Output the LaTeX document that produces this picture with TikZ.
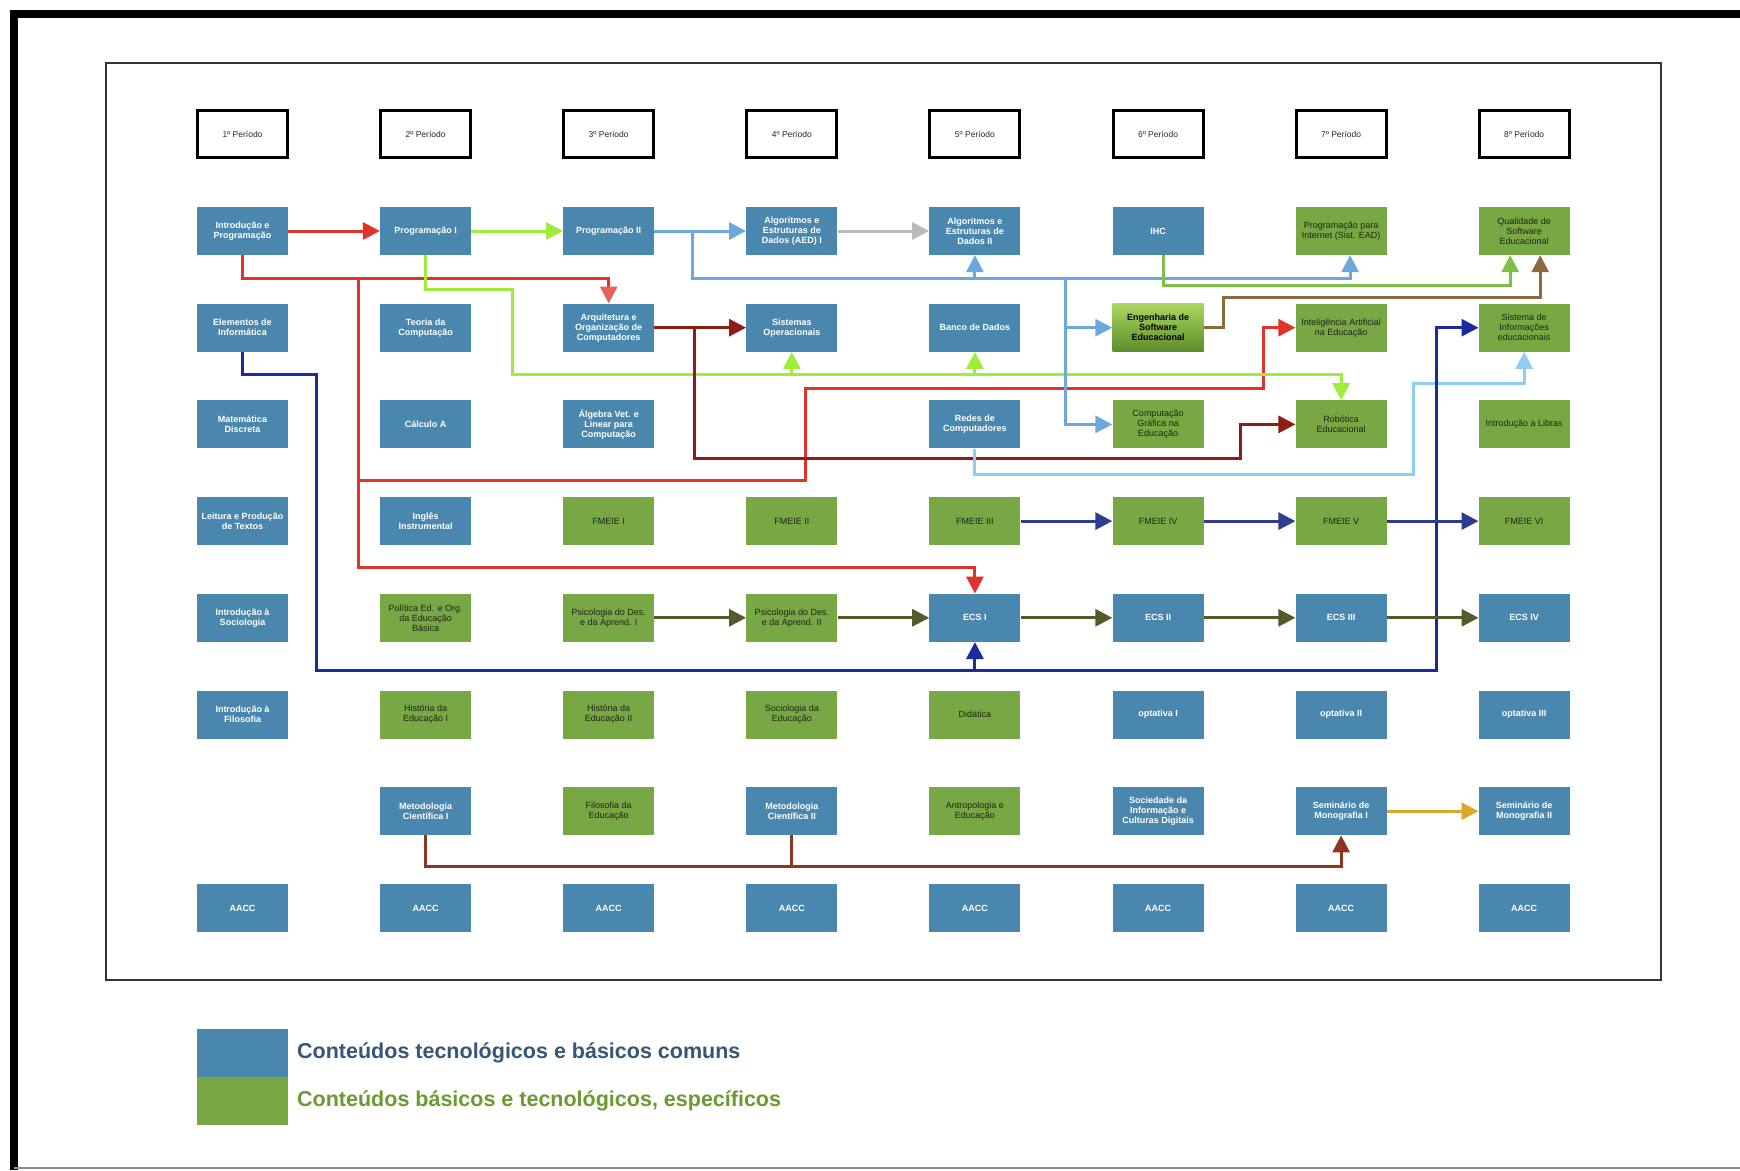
\documentclass[tikz,border=0pt]{standalone}
\usepackage{fontspec}
\setmainfont{Liberation Sans}
\usetikzlibrary{arrows.meta,calc}
\definecolor{cblue}{HTML}{4A87AE}
\definecolor{cgreen}{HTML}{78A843}
\definecolor{ctxt}{HTML}{1E2418}
\definecolor{cengtop}{HTML}{AAD660}
\definecolor{cengbot}{HTML}{5C8C2A}
\definecolor{cred}{HTML}{E0342A}
\definecolor{csalmon}{HTML}{E5625A}
\definecolor{clime}{HTML}{9FEC3A}
\definecolor{cltblue}{HTML}{6CA8DC}
\definecolor{cgray}{HTML}{BBBBBB}
\definecolor{cmaroon}{HTML}{8C1E14}
\definecolor{cbrown}{HTML}{8B6B3E}
\definecolor{cmidgreen}{HTML}{7FBF45}
\definecolor{csky}{HTML}{8FCDF2}
\definecolor{cdblue}{HTML}{1B2A9C}
\definecolor{cnavy}{HTML}{2F3D8E}
\definecolor{colive}{HTML}{555A28}
\definecolor{cgold}{HTML}{D9A72C}
\definecolor{cbrred}{HTML}{8E3422}
\definecolor{clegblue}{HTML}{365679}
\definecolor{cleggreen}{HTML}{6A9A30}
\tikzset{
  box/.style={minimum width=91pt, minimum height=48pt, inner sep=1pt, align=center},
  bbox/.style={box, fill=cblue, text=white, font=\fontsize{9}{10}\selectfont\bfseries},
  gbox/.style={box, fill=cgreen, text=ctxt, font=\fontsize{9}{10}\selectfont},
  engbox/.style={box, top color=cengtop, bottom color=cengbot, text=black, font=\fontsize{9}{10}\selectfont\bfseries},
  hbox/.style={draw=black, line width=3pt, fill=white, minimum width=90pt, minimum height=47pt, inner sep=1pt, text=black!85, font=\fontsize{8.5}{10}\selectfont},
  conn/.style={line width=3pt, -{Triangle[length=17pt,width=17pt]}},
  plainline/.style={line width=3pt},
  legtext/.style={anchor=west, inner sep=0pt, font=\fontsize{21.5}{24}\selectfont\bfseries}
}
\begin{document}
\begin{tikzpicture}[x=1pt,y=-1pt]
\useasboundingbox (0,0) rectangle (1740,1170);
\fill[white] (0,0) rectangle (1740,1170);
% frames
\draw[line width=8pt] (14,1170) -- (14,14) -- (1740,14);
\draw[line width=2pt, black!45] (14,1168) -- (1740,1168);
\draw[line width=2.5pt, black!80] (106,63) rectangle (1661,980);

% headers
\node[hbox] (h1) at (242.5,134) {1º Período};
\node[hbox] (h2) at (425.6,134) {2º Período};
\node[hbox] (h3) at (608.7,134) {3º Período};
\node[hbox] (h4) at (791.8,134) {4º Período};
\node[hbox] (h5) at (974.9,134) {5º Período};
\node[hbox] (h6) at (1158,134) {6º Período};
\node[hbox] (h7) at (1341.1,134) {7º Período};
\node[hbox] (h8) at (1524.2,134) {8º Período};

% column 1
\node[bbox] (intro) at (242.5,231) {Introdução e\\Programação};
\node[bbox] (elem) at (242.5,327.7) {Elementos de\\Informática};
\node[bbox] (matd) at (242.5,424.4) {Matemática\\Discreta};
\node[bbox] (leit) at (242.5,521.1) {Leitura e Produção\\de Textos};
\node[bbox] (socio) at (242.5,617.8) {Introdução à\\Sociologia};
\node[bbox] (filo) at (242.5,714.5) {Introdução à\\Filosofia};
\node[bbox] (aacc1) at (242.5,908) {AACC};
% column 2
\node[bbox] (prog1) at (425.6,231) {Programação I};
\node[bbox] (teoria) at (425.6,327.7) {Teoria da\\Computação};
\node[bbox] (calc) at (425.6,424.4) {Cálculo A};
\node[bbox] (ingles) at (425.6,521.1) {Inglês\\Instrumental};
\node[gbox] (polit) at (425.6,617.8) {Política Ed. e Org.\\da Educação\\Básica};
\node[gbox] (hist1) at (425.6,714.5) {História da\\Educação I};
\node[bbox] (met1) at (425.6,811.2) {Metodologia\\Científica I};
\node[bbox] (aacc2) at (425.6,908) {AACC};
% column 3
\node[bbox] (prog2) at (608.7,231) {Programação II};
\node[bbox] (arq) at (608.7,327.7) {Arquitetura e\\Organização de\\Computadores};
\node[bbox] (alg) at (608.7,424.4) {Álgebra Vet. e\\Linear para\\Computação};
\node[gbox] (fm1) at (608.7,521.1) {FMEIE I};
\node[gbox] (psi1) at (608.7,617.8) {Psicologia do Des.\\e da Aprend. I};
\node[gbox] (hist2) at (608.7,714.5) {História da\\Educação II};
\node[gbox] (filed) at (608.7,811.2) {Filosofia da\\Educação};
\node[bbox] (aacc3) at (608.7,908) {AACC};
% column 4
\node[bbox] (aed1) at (791.8,231) {Algoritmos e\\Estruturas de\\Dados (AED) I};
\node[bbox] (so) at (791.8,327.7) {Sistemas\\Operacionais};
\node[gbox] (fm2) at (791.8,521.1) {FMEIE II};
\node[gbox] (psi2) at (791.8,617.8) {Psicologia do Des.\\e da Aprend. II};
\node[gbox] (socied) at (791.8,714.5) {Sociologia da\\Educação};
\node[bbox] (met2) at (791.8,811.2) {Metodologia\\Científica II};
\node[bbox] (aacc4) at (791.8,908) {AACC};
% column 5
\node[bbox] (aed2) at (974.9,231) {Algoritmos e\\Estruturas de\\Dados II};
\node[bbox] (bd) at (974.9,327.7) {Banco de Dados};
\node[bbox] (redes) at (974.9,424.4) {Redes de\\Computadores};
\node[gbox] (fm3) at (974.9,521.1) {FMEIE III};
\node[bbox] (ecs1) at (974.9,617.8) {ECS I};
\node[gbox] (did) at (974.9,714.5) {Didática};
\node[gbox] (antro) at (974.9,811.2) {Antropologia e\\Educação};
\node[bbox] (aacc5) at (974.9,908) {AACC};
% column 6
\node[bbox] (ihc) at (1158,231) {IHC};
\node[engbox] (eng) at (1158,327.7) {Engenharia de\\Software\\Educacional};
\node[gbox] (cg) at (1158,424.4) {Computação\\Gráfica na\\Educação};
\node[gbox] (fm4) at (1158,521.1) {FMEIE IV};
\node[bbox] (ecs2) at (1158,617.8) {ECS II};
\node[bbox] (opt1) at (1158,714.5) {optativa I};
\node[bbox] (socinf) at (1158,811.2) {Sociedade da\\Informação e\\Culturas Digitais};
\node[bbox] (aacc6) at (1158,908) {AACC};
% column 7
\node[gbox] (progint) at (1341.1,231) {Programação para\\Internet (Sist. EAD)};
\node[gbox] (ia) at (1341.1,327.7) {Inteligência Artificial\\na Educação};
\node[gbox] (rob) at (1341.1,424.4) {Robótica\\Educacional};
\node[gbox] (fm5) at (1341.1,521.1) {FMEIE V};
\node[bbox] (ecs3) at (1341.1,617.8) {ECS III};
\node[bbox] (opt2) at (1341.1,714.5) {optativa II};
\node[bbox] (sem1) at (1341.1,811.2) {Seminário de\\Monografia I};
\node[bbox] (aacc7) at (1341.1,908) {AACC};
% column 8
\node[gbox] (qual) at (1524.2,231) {Qualidade de\\Software\\Educacional};
\node[gbox] (si) at (1524.2,327.7) {Sistema de\\Informações\\educacionais};
\node[gbox] (libras) at (1524.2,424.4) {Introdução a Libras};
\node[gbox] (fm6) at (1524.2,521.1) {FMEIE VI};
\node[bbox] (ecs4) at (1524.2,617.8) {ECS IV};
\node[bbox] (opt3) at (1524.2,714.5) {optativa III};
\node[bbox] (sem2) at (1524.2,811.2) {Seminário de\\Monografia II};
\node[bbox] (aacc8) at (1524.2,908) {AACC};

% junction coordinates
\coordinate (jr1) at (358,278);
\coordinate (jr2) at (358,480);
\coordinate (jl0) at (512,374);
\coordinate (jm) at (694,327.7);
\coordinate (jb1) at (692,231);
\coordinate (jb2) at (1065,278);
\coordinate (jd) at (974.9,670);

% connectors
\draw[line width=3pt, cred, -{Triangle[length=17pt,width=17pt,color=csalmon]}] (intro.south) |- (jr1) -| (arq.north);
\draw[conn, cred] (jr1) -- (jr2) -| (805,388) -- (1263,388) |- (ia.west);
\draw[conn, cred] (jr2) -- (358,567) -| (ecs1.north);
\draw[conn, cred] (intro.east) -- (prog1.west);

\draw[conn, clime] (prog1.east) -- (prog2.west);
\draw[conn, clime] (prog1.south) |- (512,289) -- (jl0) -| (rob.north);
\draw[conn, clime] (so.south |- jl0) -- (so.south);
\draw[conn, clime] (bd.south |- jl0) -- (bd.south);

\draw[conn, cmaroon] (arq.east) -- (so.west);
\draw[conn, cmaroon] (jm) |- (1240,458) |- (rob.west);

\draw[conn, cltblue] (prog2.east) -- (aed1.west);
\draw[conn, cltblue] (jb1) |- (jb2) -| ($(progint.south)+(9,0)$);
\draw[conn, cltblue] (aed2.south |- jb2) -- (aed2.south);
\draw[conn, cltblue] (jb2) |- (cg.west);
\draw[conn, cltblue] (jb2 |- eng.west) -- (eng.west);

\draw[conn, cgray] (aed1.east) -- (aed2.west);

\draw[conn, cmidgreen] ($(ihc.south)+(5,0)$) |- ($(qual.south)+(-14,30)$) -- ($(qual.south)+(-14,0)$);
\draw[conn, cbrown] (eng.east) -- ++(20,0) |- ($(qual.south)+(16,42)$) -- ($(qual.south)+(16,0)$);

\draw[conn, csky] (redes.south) -- ++(0,26) -| (1413,383) -| (si.south);

\draw[conn, cdblue] (elem.south) -- ++(0,23) -| (316,670) -- (jd) -- (1436,670) |- (si.west);
\draw[conn, cdblue] (jd) -- (ecs1.south);

\draw[conn, cnavy] (fm3.east) -- (fm4.west);
\draw[conn, cnavy] (fm4.east) -- (fm5.west);
\draw[conn, cnavy] (fm5.east) -- (fm6.west);

\draw[conn, colive] (psi1.east) -- (psi2.west);
\draw[conn, colive] (psi2.east) -- (ecs1.west);
\draw[conn, colive] (ecs1.east) -- (ecs2.west);
\draw[conn, colive] (ecs2.east) -- (ecs3.west);
\draw[conn, colive] (ecs3.east) -- (ecs4.west);

\draw[conn, cgold] (sem1.east) -- (sem2.west);

\draw[plainline, cbrred] (met2.south) -- ++(0,31);
\draw[conn, cbrred] (met1.south) -- ++(0,31) -| (sem1.south);

% legend
\node[fill=cblue, minimum width=91pt, minimum height=48pt, inner sep=0pt] (legblue) at (242.5,1053) {};
\node[fill=cgreen, minimum width=91pt, minimum height=48pt, inner sep=0pt] (leggreen) at (242.5,1101) {};
\node[legtext, text=clegblue] (legt1) at (297,1053) {Conteúdos tecnológicos e básicos comuns};
\node[legtext, text=cleggreen] (legt2) at (297,1101) {Conteúdos básicos e tecnológicos, específicos};
\end{tikzpicture}
\end{document}
